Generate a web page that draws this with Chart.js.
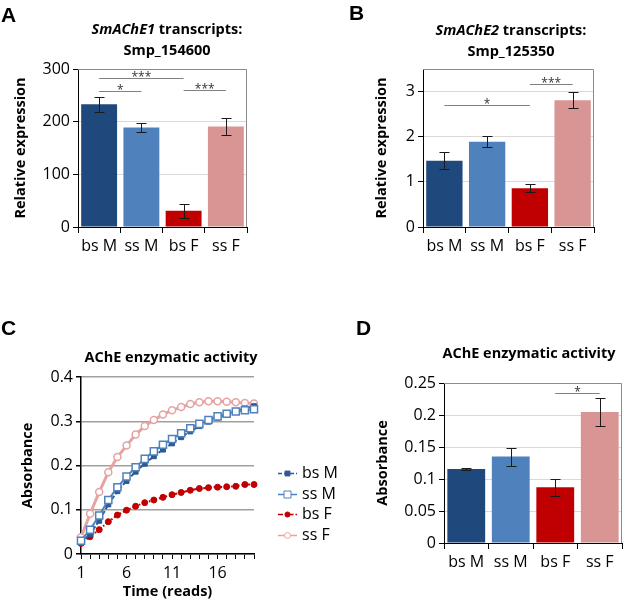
<!DOCTYPE html>
<html>
<head>
<meta charset="utf-8">
<script src="https://cdn.jsdelivr.net/npm/chart.js@4.4.0/dist/chart.umd.min.js"></script>
<style>
  body { margin: 0; background: #fff; }
  #wrap { position: relative; width: 623px; height: 603px; overflow: hidden; font-family: 'Open Sans', sans-serif; color: #000; }
  canvas { position: absolute; }
  .letter { position: absolute; font-family: 'Liberation Sans', Arial, sans-serif; font-weight: bold; font-size: 21px; line-height: 21px; }
  .ttl { position: absolute; font-weight: bold; font-size: 14.5px; line-height: 21px; text-align: center; white-space: nowrap; }
</style>
</head>
<body>
<div id="wrap">
  <canvas id="chart-a" width="311" height="300" style="left:0;top:0"></canvas>
  <canvas id="chart-b" width="312" height="300" style="left:311px;top:0"></canvas>
  <canvas id="chart-c" width="340" height="303" style="left:0;top:300px"></canvas>
  <canvas id="chart-d" width="283" height="303" style="left:340px;top:300px"></canvas>

  <div class="letter" style="left:1px;top:4px">A</div>
  <div class="letter" style="left:349px;top:2px">B</div>
  <div class="letter" style="left:1px;top:317px">C</div>
  <div class="letter" style="left:356px;top:317px">D</div>

  <div class="ttl" style="left:47px;top:18px;width:240px"><i>SmAChE1</i> transcripts:<br>Smp_154600</div>
  <div class="ttl" style="left:391px;top:19px;width:240px"><i>SmAChE2</i> transcripts:<br>Smp_125350</div>
  <div class="ttl" style="left:51px;top:346px;width:240px">AChE enzymatic activity</div>
  <div class="ttl" style="left:409px;top:342px;width:240px">AChE enzymatic activity</div>
</div>

<script>
const groups = ["bs M", "ss M", "bs F", "ss F"];
const barColors = ["#1F497D", "#4F81BD", "#C00000", "#D99594"];

// A - SmAChE1 relative expression
const smache1 = [233, 189, 31, 191];
const smache1_err = [14, 8, 13, 16];
const ticks_a = [0, 100, 200, 300];
// significance: [from bar, to bar, height, stars]
const sig_a = [[0, 2, 282, "***"], [0, 1, 259, "*"], [2, 3, 260, "***"]];

// B - SmAChE2 relative expression
const smache2 = [1.47, 1.89, 0.86, 2.81];
const smache2_err = [0.19, 0.125, 0.09, 0.18];
const ticks_b = [0, 1, 2, 3];
const sig_b = [[0, 2, 2.70, "*"], [2, 3, 3.17, "***"]];

// C - kinetics
const reads = ["1", "2", "3", "4", "5", "6", "7", "8", "9", "10",
  "11", "12", "13", "14", "15", "16", "17", "18", "19", "20"];
const kin_bsM = [0.025, 0.045, 0.075, 0.112, 0.142, 0.165, 0.186, 0.204, 0.221, 0.236,
  0.25, 0.264, 0.277, 0.289, 0.299, 0.308, 0.316, 0.323, 0.329, 0.334];
const kin_ssM = [0.03, 0.055, 0.087, 0.122, 0.151, 0.175, 0.196, 0.215, 0.232, 0.247,
  0.26, 0.273, 0.284, 0.294, 0.303, 0.311, 0.317, 0.322, 0.325, 0.327];
const kin_bsF = [0.024, 0.039, 0.055, 0.073, 0.088, 0.099, 0.108, 0.116, 0.122, 0.128,
  0.134, 0.139, 0.144, 0.148, 0.15, 0.151, 0.152, 0.153, 0.157, 0.157];
const kin_ssF = [0.038, 0.091, 0.14, 0.185, 0.219, 0.245, 0.27, 0.289, 0.303, 0.315,
  0.325, 0.332, 0.339, 0.343, 0.345, 0.345, 0.344, 0.343, 0.341, 0.34];
const ticks_c = [0, 0.1, 0.2, 0.3, 0.4];

// D - enzymatic activity
const activity = [0.1155, 0.135, 0.087, 0.2045];
const activity_err = [0.001, 0.014, 0.013, 0.022];
const ticks_d = [0, 0.05, 0.1, 0.15, 0.2, 0.25];
const sig_d = [[2, 3, 0.235, "*"]];

Chart.defaults.font.family = "'Open Sans', sans-serif";
Chart.defaults.color = "#000";

// frame, error bars and significance lines
const barExtras = {
  id: "barExtras",
  beforeDatasetsDraw(chart) {
    const a = chart.chartArea, ctx = chart.ctx;
    ctx.save();
    ctx.strokeStyle = "#8c8c8c";
    ctx.lineWidth = 1;
    ctx.beginPath();
    ctx.moveTo(a.left, a.top + 0.5);
    ctx.lineTo(a.right - 0.5, a.top + 0.5);
    ctx.lineTo(a.right - 0.5, a.bottom);
    ctx.stroke();
    ctx.restore();
  },
  afterDatasetsDraw(chart, args, opts) {
    const ctx = chart.ctx, y = chart.scales.y;
    const meta = chart.getDatasetMeta(0);
    const vals = chart.data.datasets[0].data;
    ctx.save();
    ctx.strokeStyle = "#1a1a1a";
    ctx.lineWidth = 1;
    opts.err.forEach((e, i) => {
      const x = Math.round(meta.data[i].x) + 0.5;
      const hi = Math.round(y.getPixelForValue(vals[i] + e)) + 0.5;
      const lo = Math.round(y.getPixelForValue(vals[i] - e)) + 0.5;
      ctx.beginPath();
      ctx.moveTo(x, hi); ctx.lineTo(x, lo);
      ctx.moveTo(x - 5, hi); ctx.lineTo(x + 5, hi);
      ctx.moveTo(x - 5, lo); ctx.lineTo(x + 5, lo);
      ctx.stroke();
    });
    ctx.font = "12px 'Open Sans'";
    ctx.textAlign = "center";
    ctx.textBaseline = "alphabetic";
    opts.sig.forEach(([f, t, h, s]) => {
      const x1 = meta.data[f].x, x2 = meta.data[t].x;
      const py = Math.round(y.getPixelForValue(h)) + 0.5;
      ctx.strokeStyle = "#808080";
      ctx.beginPath();
      ctx.moveTo(x1, py); ctx.lineTo(x2, py);
      ctx.stroke();
      ctx.fillStyle = "#333";
      ctx.fillText(s, (x1 + x2) / 2, py + 2);
    });
    ctx.restore();
  }
};

function barChart(id, values, o) {
  return new Chart(document.getElementById(id), {
    type: "bar",
    data: {
      labels: groups,
      datasets: [{
        data: values,
        backgroundColor: barColors,
        barPercentage: 0.85,
        categoryPercentage: 1,
      }],
    },
    options: {
      responsive: false,
      animation: false,
      layout: { padding: o.pad },
      plugins: {
        legend: { display: false },
        tooltip: { enabled: false },
        barExtras: { err: o.err, sig: o.sig },
      },
      scales: {
        x: {
          grid: { drawOnChartArea: false, tickLength: 6, tickColor: "#000", offset: true },
          border: { color: "#000" },
          ticks: { padding: 4, font: { size: 16 }, color: "#000" },
          afterFit: (s) => { s.height = 40; },
        },
        y: {
          min: 0,
          max: o.max,
          afterBuildTicks: (s) => { s.ticks = o.ticks.map((v) => ({ value: v })); },
          ticks: { font: { size: 16 }, color: "#000", callback: (v) => String(v) },
          grid: { color: "#d9d9d9", tickColor: "#000", tickLength: 5 },
          border: { color: "#000" },
          title: { display: true, text: o.ytitle, font: { size: 14.5, weight: "bold" }, padding: 0, color: "#000" },
          afterFit: (s) => { s.width = o.yw; },
        },
      },
    },
    plugins: [barExtras],
  });
}

barChart("chart-a", smache1, {
  max: 300, ticks: ticks_a, err: smache1_err, sig: sig_a,
  ytitle: "Relative expression", yw: 66,
  pad: { left: 12, top: 69, right: 64, bottom: 33 },
});

barChart("chart-b", smache2, {
  max: 3.5, ticks: ticks_b, err: smache2_err, sig: sig_b,
  ytitle: "Relative expression", yw: 50,
  pad: { left: 62, top: 69, right: 29, bottom: 33 },
});

barChart("chart-d", activity, {
  max: 0.25, ticks: ticks_d, err: activity_err, sig: sig_d,
  ytitle: "Absorbance", yw: 70,
  pad: { left: 34, top: 83, right: 1, bottom: 20 },
});

// legend drawn beside the line chart
const sideLegend = {
  id: "sideLegend",
  afterDraw(chart) {
    const ctx = chart.ctx, a = chart.chartArea;
    ctx.save();
    chart.data.datasets.forEach((ds, i) => {
      const y = Math.round(a.top + 96 + i * 20.7) + 0.5;
      const x0 = a.right + 24, x1 = x0 + 19, xm = (x0 + x1) / 2;
      ctx.strokeStyle = ds.borderColor;
      ctx.lineWidth = 1.5;
      ctx.setLineDash(ds.borderDash || []);
      ctx.beginPath();
      ctx.moveTo(x0, y); ctx.lineTo(x1, y);
      ctx.stroke();
      ctx.setLineDash([]);
      ctx.fillStyle = ds.pointBackgroundColor;
      ctx.lineWidth = 1;
      ctx.beginPath();
      if (ds.pointStyle === "rect") {
        const h = ds.pointRadius * 0.7;
        ctx.rect(xm - h, y - h, 2 * h, 2 * h);
      } else {
        ctx.arc(xm, y, ds.pointRadius * 0.85, 0, Math.PI * 2);
      }
      ctx.fill();
      ctx.stroke();
      ctx.fillStyle = "#000";
      ctx.font = "16px 'Open Sans'";
      ctx.textAlign = "left";
      ctx.textBaseline = "middle";
      ctx.fillText(ds.label, x1 + 5, y);
    });
    ctx.restore();
  }
};

new Chart(document.getElementById("chart-c"), {
  type: "line",
  data: {
    labels: reads,
    datasets: [
      {
        label: groups[0], data: kin_bsM, order: 1,
        borderColor: "#2C5A94", borderWidth: 2, borderDash: [4, 2],
        pointStyle: "rect", pointRadius: 3.5, pointBorderWidth: 1,
        pointBackgroundColor: "#2C5A94", pointBorderColor: "#2C5A94",
      },
      {
        label: groups[1], data: kin_ssM, order: 0,
        borderColor: "#4F81BD", borderWidth: 2,
        pointStyle: "rect", pointRadius: 5, pointBorderWidth: 1.5,
        pointBackgroundColor: "#ffffff", pointBorderColor: "#4F81BD",
      },
      {
        label: groups[2], data: kin_bsF, order: 2,
        borderColor: "#C00000", borderWidth: 2, borderDash: [5, 2, 1.5, 2],
        pointStyle: "circle", pointRadius: 3, pointBorderWidth: 1,
        pointBackgroundColor: "#C00000", pointBorderColor: "#C00000",
      },
      {
        label: groups[3], data: kin_ssF, order: 3,
        borderColor: "#E6A3A3", borderWidth: 3,
        pointStyle: "circle", pointRadius: 3.5, pointBorderWidth: 1.5,
        pointBackgroundColor: "#ffffff", pointBorderColor: "#E6A3A3",
      },
    ],
  },
  options: {
    responsive: false,
    animation: false,
    layout: { padding: { left: 19, top: 77, right: 86, bottom: 2 } },
    plugins: { legend: { display: false }, tooltip: { enabled: false } },
    scales: {
      x: {
        grid: { drawOnChartArea: false, tickLength: 5, tickColor: "#000" },
        border: { color: "#000", width: 1.5 },
        ticks: {
          autoSkip: false, maxRotation: 0, padding: 5, font: { size: 16 }, color: "#000",
          callback: function (val, index) {
            return index % 5 === 0 ? this.getLabelForValue(val) : "";
          },
        },
        title: { display: true, text: "Time (reads)", font: { size: 14.5, weight: "bold" }, padding: 0, color: "#000" },
        afterFit: (s) => { s.height = 47; },
      },
      y: {
        min: 0,
        max: 0.4,
        afterBuildTicks: (s) => { s.ticks = ticks_c.map((v) => ({ value: v })); },
        ticks: { font: { size: 16 }, color: "#000", callback: (v) => String(v) },
        grid: { color: "#a0a0a0", lineWidth: 1.5, tickColor: "#000", tickLength: 5 },
        border: { color: "#000", width: 1.5 },
        title: { display: true, text: "Absorbance", font: { size: 14.5, weight: "bold" }, padding: 0, color: "#000" },
        afterFit: (s) => { s.width = 62; },
      },
    },
  },
  plugins: [sideLegend],
});
</script>
</body>
</html>
